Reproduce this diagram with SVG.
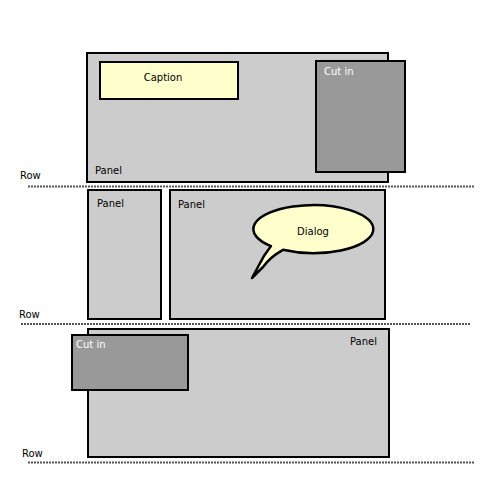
<svg xmlns="http://www.w3.org/2000/svg" width="500" height="500" viewBox="0 0 500 500">
<style>
text{font-family:"DejaVu Sans","Liberation Sans",sans-serif;font-size:10px;fill:#000}
.panel{fill:#cccccc;stroke:#000;stroke-width:2}
.cut{fill:#999999;stroke:#000;stroke-width:2}
.cap{fill:#ffffcc;stroke:#000;stroke-width:2}
.row{stroke:#555;stroke-width:2;stroke-dasharray:2 1;fill:none}
.w{fill:#fff}
</style>
<rect width="500" height="500" fill="#fff"/>
<g id="rows">
<line class="row" x1="28" y1="186.5" x2="475" y2="186.5"/>
<text x="20" y="179">Row</text>
<line class="row" x1="21" y1="324" x2="470" y2="324"/>
<text x="19" y="318">Row</text>
<line class="row" x1="28" y1="462.5" x2="474" y2="462.5"/>
<text x="22" y="457">Row</text>
</g>
<g id="panel1">
<rect class="panel" x="87" y="53" width="301" height="129"/>
<text x="95" y="174">Panel</text>
</g>
<g id="caption">
<rect class="cap" x="100" y="62" width="138" height="37"/>
<text x="163" y="81" text-anchor="middle">Caption</text>
</g>
<g id="cutin1">
<rect class="cut" x="316" y="61" width="89" height="111"/>
<text class="w" x="324" y="75">Cut in</text>
</g>
<g id="panel2">
<rect class="panel" x="88" y="190" width="73" height="129"/>
<text x="97" y="207">Panel</text>
</g>
<g id="panel3">
<rect class="panel" x="170" y="190" width="215" height="129"/>
<text x="178" y="208">Panel</text>
</g>
<g id="dialog">
<path d="M271,246.1 A60,24 0 1,1 283,249.8 Q270,257 263,267 L252,278 L259,265 Q264,255 271,246.1 Z" fill="#ffffcc" stroke="#000" stroke-width="2.5" stroke-linejoin="round"/>
<text x="313" y="235" text-anchor="middle">Dialog</text>
</g>
<g id="panel4">
<rect class="panel" x="88" y="329" width="301" height="128"/>
<text x="350" y="345">Panel</text>
</g>
<g id="cutin2">
<rect class="cut" x="72" y="335" width="116" height="55"/>
<text class="w" x="76" y="348">Cut in</text>
</g>
</svg>
